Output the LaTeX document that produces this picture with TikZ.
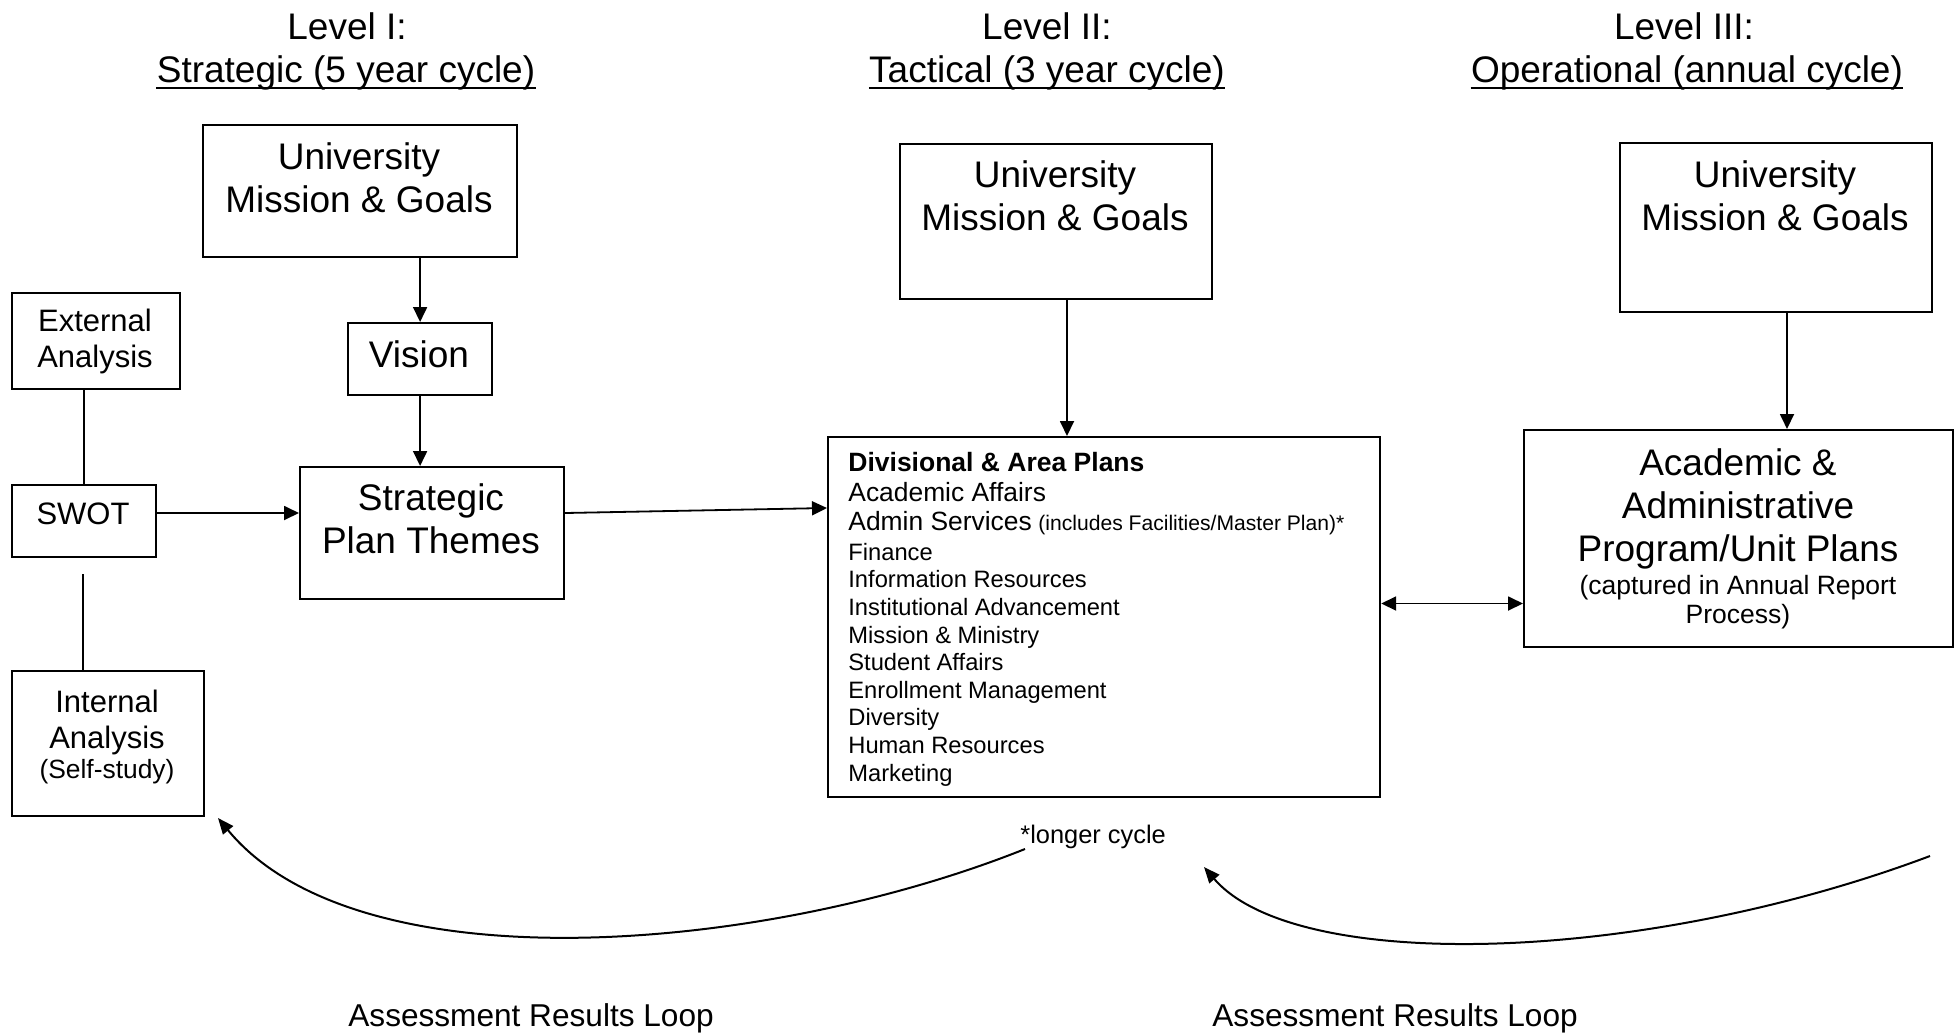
\documentclass[tikz,border=0pt]{standalone}
\usepackage{fontspec}
\setmainfont{Liberation Sans}
\usetikzlibrary{arrows.meta}
\begin{document}
\begin{tikzpicture}[x=0.5pt,y=-0.5pt,
  box/.style={draw=black, line width=1.1pt, inner sep=0pt, anchor=north west},
  txt/.style={inner sep=0pt, anchor=base, align=center},
  big/.style={font=\fontsize{18.5}{21.5}\selectfont},
  mid/.style={font=\fontsize{15.5}{18}\selectfont},
  conn/.style={line width=0.9pt},
  arr/.style={conn, -{Triangle[length=7.5pt,width=7pt]}},
  dbl/.style={conn, {Triangle[length=7.5pt,width=7pt]}-{Triangle[length=7.5pt,width=7pt]}},
  carr/.style={line width=1pt, -{Triangle[length=8pt,width=6.5pt]}},
  uline/.style={line width=1.3pt}
]
\fill[white] (0,0) rectangle (1955,1034);
\useasboundingbox (0,0) rectangle (1955,1034);

% headings
\node[txt,big] (h1a) at (347,39) {Level I:};
\node[txt,big] (h1b) at (346,82) {Strategic (5 year cycle)};
\node[txt,big] (h2a) at (1047,39) {Level II:};
\node[txt,big] (h2b) at (1047,82) {Tactical (3 year cycle)};
\node[txt,big] (h3a) at (1684,39) {Level III:};
\node[txt,big] (h3b) at (1687,82) {Operational (annual cycle)};
\draw[uline] ([yshift=-3pt]h1b.base west) -- ([yshift=-3pt]h1b.base east);
\draw[uline] ([yshift=-3pt]h2b.base west) -- ([yshift=-3pt]h2b.base east);
\draw[uline] ([yshift=-3pt]h3b.base west) -- ([yshift=-3pt]h3b.base east);

% boxes
\node[box, minimum width=157pt, minimum height=66pt] (mis1) at (202,124) {};
\node[box, minimum width=84pt, minimum height=48pt] (ext) at (11,292) {};
\node[box, minimum width=72pt, minimum height=36pt] (vis) at (347,322) {};
\node[box, minimum width=132pt, minimum height=66pt] (strat) at (299,466) {};
\node[box, minimum width=72pt, minimum height=36pt] (swot) at (11,484) {};
\node[box, minimum width=96pt, minimum height=72.5pt] (int) at (11,670) {};
\node[box, minimum width=156pt, minimum height=77.5pt] (mis2) at (899,143) {};
\node[box, minimum width=276pt, minimum height=180pt] (div) at (827,436) {};
\node[box, minimum width=156pt, minimum height=84.5pt] (mis3) at (1619,142) {};
\node[box, minimum width=214.5pt, minimum height=108.5pt] (acad) at (1523,429) {};

% box texts (anchor base = baseline of the last line)
\node[txt,big] (mis1t) at (359,212) {University\\Mission \& Goals};
\node[txt,big] (mis2t) at (1055,230) {University\\Mission \& Goals};
\node[txt,big] (mis3t) at (1775,230) {University\\Mission \& Goals};
\node[txt,big] (vist) at (419,367) {Vision};
\node[txt,big] (stratt) at (431,553) {Strategic\\Plan Themes};
\node[txt,mid] (extt) at (95,367.5) {External\\Analysis};
\node[txt,mid] (swott) at (83,524) {SWOT};
\node[txt,mid] (intt) at (107,748) {Internal\\Analysis};
\node[txt,font=\fontsize{13.2}{15}\selectfont] (intt2) at (107,778) {(Self-study)};
\node[inner sep=0pt, anchor=base west, align=left, font=\fontsize{11.85}{13.8}\selectfont] (divt) at (848,781)
  {{\fontsize{13.25}{13.8}\selectfont\bfseries Divisional \& Area Plans}\\[0.95pt]
   {\fontsize{13.2}{13.8}\selectfont Academic Affairs}\\[0.95pt]
   {\fontsize{13.2}{13.8}\selectfont Admin Services} {\fontsize{10.55}{13.8}\selectfont (includes Facilities/Master Plan)*}\\[0.95pt]
   Finance\\
   Information Resources\\
   Institutional Advancement\\
   Mission \& Ministry\\
   Student Affairs\\
   Enrollment Management\\
   Diversity\\
   Human Resources\\
   Marketing};
\node[txt,big] (acadt1) at (1738,561.7) {Academic \&\\Administrative\\Program/Unit Plans};
\node[txt,font=\fontsize{13.25}{14.5}\selectfont] (acadt2) at (1738,623.5) {(captured in Annual Report\\Process)};

% other texts
\node[inner sep=0pt, anchor=base west, font=\fontsize{12.7}{14}\selectfont] (longt) at (1020,843.3) {*longer cycle};
\node[inner sep=0pt, anchor=base west, font=\fontsize{15.8}{18}\selectfont] (loop1) at (348,1026.7) {Assessment Results Loop};
\node[inner sep=0pt, anchor=base west, font=\fontsize{15.8}{18}\selectfont] (loop2) at (1212,1026.7) {Assessment Results Loop};

% connectors
\coordinate (swotgap) at (83,574);
\coordinate (yA) at (0,513);
\coordinate (yB) at (0,508);
\coordinate (xC) at (1067,0);
\coordinate (xD) at (1787,0);
\coordinate (yE) at (0,603.5);
\draw[arr] (mis1.south -| vis.north) -- (vis.north);
\draw[arr] (vis.south) -- (vis.south |- strat.north);
\draw[conn] (ext.south -| swot.north) -- (swot.north);
\draw[conn] (swotgap) -- (swotgap |- int.north);
\draw[arr] (swot.east |- yA) -- (strat.west |- yA);
\draw[arr] (strat.east |- yA) -- (div.west |- yB);
\draw[arr] (mis2.south -| xC) -- (div.north -| xC);
\draw[arr] (mis3.south -| xD) -- (acad.north -| xD);
\draw[dbl] (div.east |- yE) -- (acad.west |- yE);

% assessment loops
\coordinate (l1s) at (1025,849);
\coordinate (l1e) at (218,818);
\coordinate (l2s) at (1930,856);
\coordinate (l2e) at (1204,867);
\draw[carr] (l1s) .. controls (765,953) and (358,988) .. (l1e);
\draw[carr] (l2s) .. controls (1640,965) and (1295,973) .. (l2e);
\end{tikzpicture}
\end{document}
